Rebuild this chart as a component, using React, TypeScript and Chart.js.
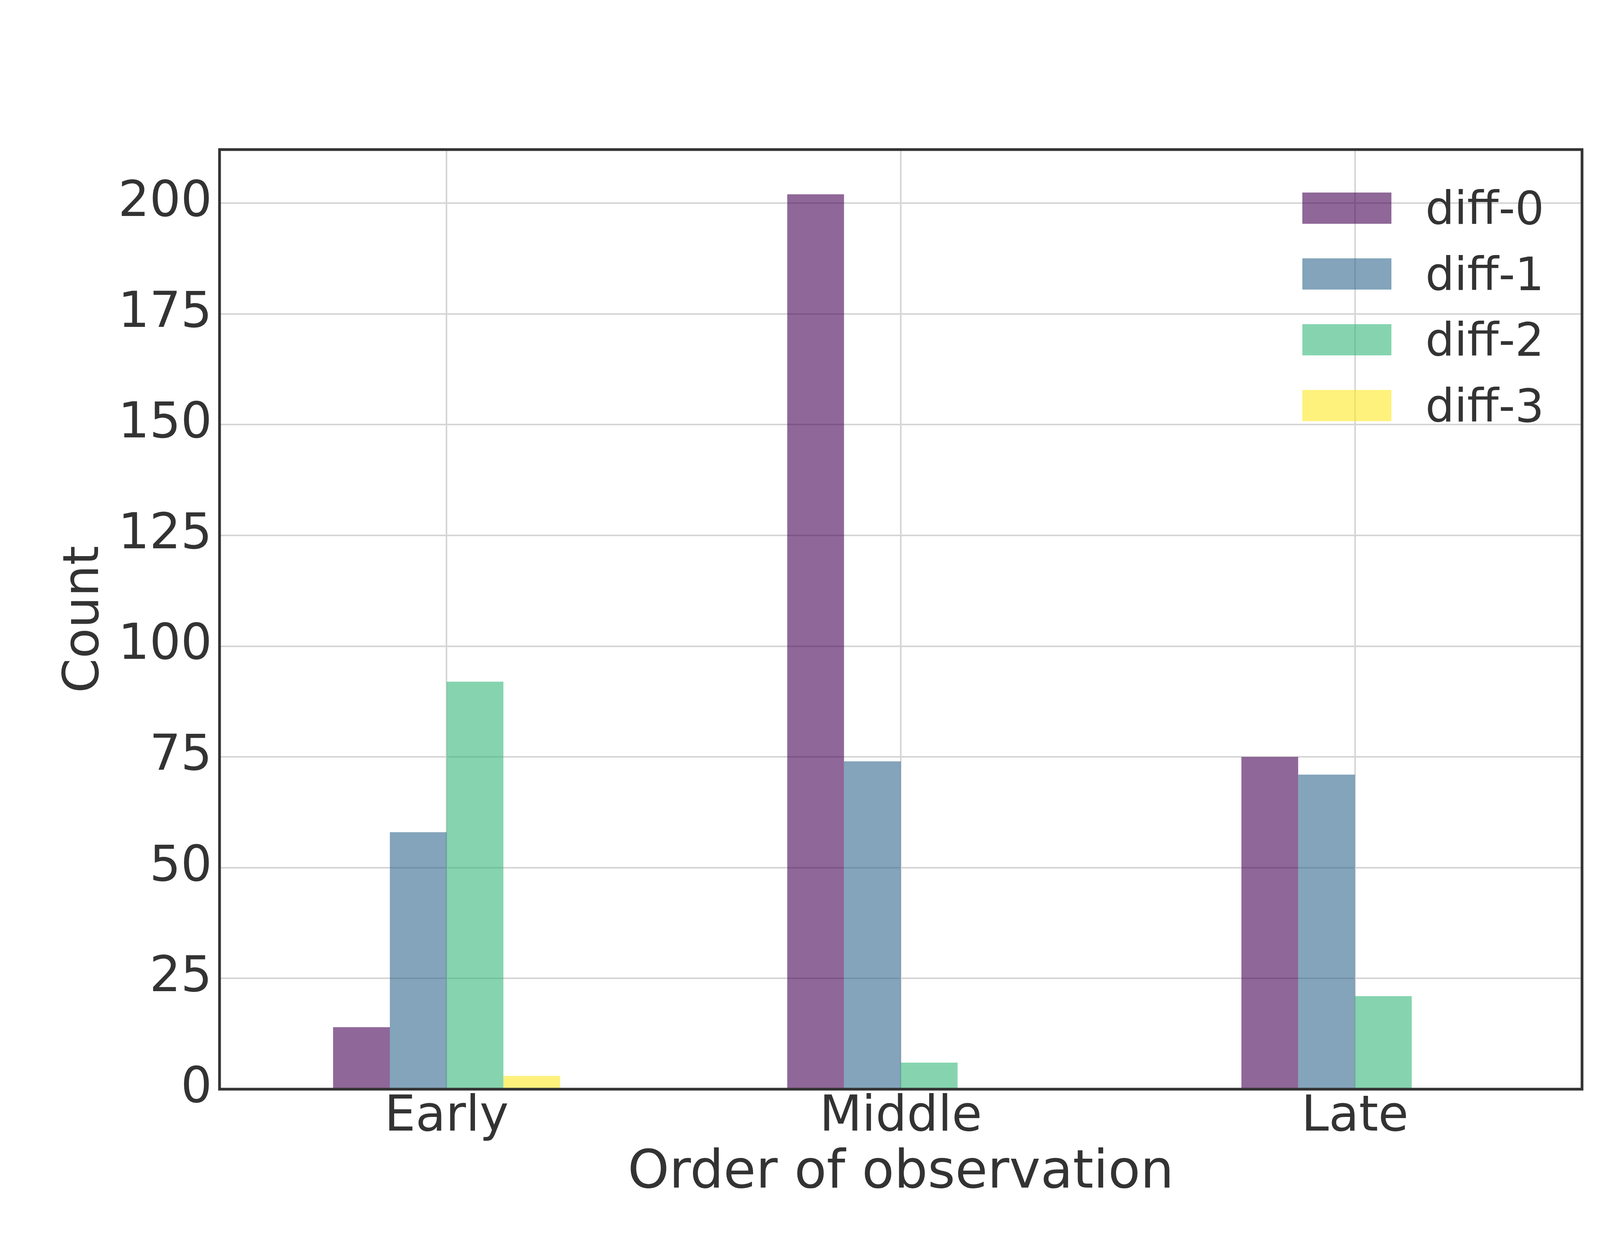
import { useEffect, useRef } from 'react';
import Chart from 'chart.js/auto';

const categories = ['Early', 'Middle', 'Late'];
const seriesNames = ['diff-0', 'diff-1', 'diff-2', 'diff-3'];
const diff0 = [14, 202, 75];
const diff1 = [58, 74, 71];
const diff2 = [92, 6, 21];
const diff3 = [3, 0, 0];
const yTicks = [0, 25, 50, 75, 100, 125, 150, 175, 200];
const yMax = 212.1;

const colors = [
    'rgba(68, 1, 84, 0.6)',
    'rgba(49, 104, 142, 0.6)',
    'rgba(53, 183, 121, 0.6)',
    'rgba(253, 231, 37, 0.6)',
];

const FONT = "'DejaVu Sans', sans-serif";
const TEXT = '#333333';

// frame around the plot area + legend inside the top-right corner
const framePlugin = {
    id: 'framePlugin',
    afterDatasetsDraw: (chart: any) => {
        const { ctx, chartArea } = chart;
        ctx.save();

        // legend
        const handleLeft = chartArea.right - 716;
        const textX = chartArea.right - 401;
        chart.data.datasets.forEach((ds: any, i: number) => {
            const cy = chartArea.top + 150 + i * 168.5;
            ctx.fillStyle = ds.backgroundColor;
            ctx.fillRect(handleLeft, cy - 40, 228, 80);
            ctx.fillStyle = TEXT;
            ctx.font = `117px ${FONT}`;
            ctx.textAlign = 'left';
            ctx.textBaseline = 'alphabetic';
            ctx.fillText(ds.label, textX, cy + 41);
        });

        ctx.strokeStyle = TEXT;
        ctx.lineWidth = 7;
        ctx.strokeRect(chartArea.left, chartArea.top, chartArea.right - chartArea.left, chartArea.bottom - chartArea.top);
        ctx.restore();
    }
};

const App: React.FC = () => {
    const chartRef = useRef<HTMLCanvasElement>(null);

    useEffect(() => {
        if (!chartRef.current) return;
        const ctx = chartRef.current.getContext('2d');
        if (!ctx) return;

        const values = [diff0, diff1, diff2, diff3];

        const chart = new Chart(ctx, {
            type: 'bar',
            data: {
                labels: categories,
                datasets: seriesNames.map((name, i) => ({
                    label: name,
                    data: values[i],
                    backgroundColor: colors[i],
                    borderWidth: 0,
                    categoryPercentage: 0.5,
                    barPercentage: 1.0,
                })),
            },
            options: {
                animation: false,
                responsive: false,
                maintainAspectRatio: false,
                devicePixelRatio: 1,
                layout: {
                    padding: { left: 0, top: 383, right: 450, bottom: 0 }
                },
                scales: {
                    x: {
                        offset: true,
                        grid: {
                            offset: false,
                            color: '#d5d5d5',
                            lineWidth: 4,
                            drawTicks: false,
                        },
                        border: { display: false },
                        ticks: {
                            color: TEXT,
                            padding: 0,
                            font: { family: FONT, size: 126, lineHeight: 1.16 },
                            maxRotation: 0,
                        },
                        title: {
                            display: true,
                            text: 'Order of observation',
                            color: TEXT,
                            font: { family: FONT, size: 135, lineHeight: 1.2 },
                            padding: { top: 0, bottom: 101 },
                        },
                        afterFit: (scale: any) => {
                            scale.height = 399;
                        },
                    },
                    y: {
                        min: 0,
                        max: yMax,
                        grid: {
                            color: '#d5d5d5',
                            lineWidth: 4,
                            drawTicks: false,
                        },
                        border: { display: false },
                        ticks: {
                            stepSize: 25,
                            includeBounds: false,
                            color: TEXT,
                            padding: 19,
                            font: { family: FONT, size: 126 },
                        },
                        afterBuildTicks: (scale: any) => {
                            scale.ticks = yTicks.map((v) => ({ value: v }));
                        },
                        title: {
                            display: true,
                            text: 'Count',
                            color: TEXT,
                            font: { family: FONT, size: 127, lineHeight: 1.2 },
                            padding: { top: 142, bottom: 0 },
                        },
                        afterFit: (scale: any) => {
                            scale.width = 562;
                        },
                    },
                },
                plugins: {
                    legend: { display: false },
                    tooltip: { enabled: false },
                },
            },
            plugins: [framePlugin],
        });

        return () => {
            chart.destroy();
        };
    }, []);

    return (
        <div style={{ position: 'absolute', left: 0, top: 0, width: 4500, height: 3188, background: '#ffffff' }}>
            <canvas ref={chartRef} width={4500} height={3188} style={{ width: 4500, height: 3188 }}></canvas>
        </div>
    );
};

export default App;
